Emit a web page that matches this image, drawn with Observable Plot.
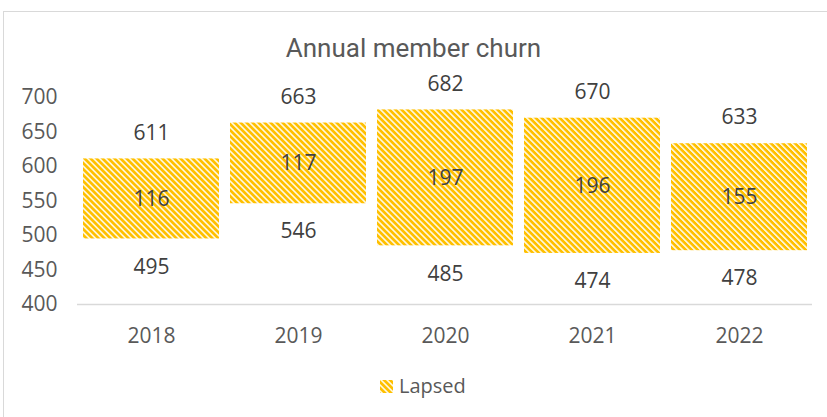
<!DOCTYPE html>
<html>
<head>
<meta charset="utf-8">
<script src="https://cdn.jsdelivr.net/npm/d3@7"></script>
<script src="https://cdn.jsdelivr.net/npm/@observablehq/plot@0.6"></script>
<style>
  html, body { margin: 0; padding: 0; background: #fff; }
  #wrap { position: relative; width: 827px; height: 417px; overflow: hidden; }
  #frame { position: absolute; left: 3px; top: 11px; width: 840px; height: 430px; border: 1.5px solid #d9d9d9; box-sizing: border-box; }
  #title { position: absolute; left: 0; width: 827px; top: 31px; text-align: center; font-family: Roboto, sans-serif; font-size: 26px; color: #595959; line-height: 34px; }
  #chart { position: absolute; left: 0; top: 0; }
  #legend { position: absolute; left: 380px; top: 372px; font-family: "Open Sans", sans-serif; font-size: 20px; color: #595959; display: flex; align-items: center; line-height: 28px; }
  #legend svg { margin-right: 6px; }
</style>
</head>
<body>
<div id="wrap">
  <div id="frame"></div>
  <div id="chart"></div>
  <div id="title">Annual member churn</div>
  <div id="legend"><svg width="13" height="13"><defs><pattern id="hatchL" patternUnits="userSpaceOnUse" width="10" height="4.24" patternTransform="rotate(45)"><rect width="10" height="4.24" fill="#fff"/><rect width="10" height="2.8" fill="#FFC000"/></pattern></defs><rect width="13" height="13" fill="url(#hatchL)"/></svg>Lapsed</div>
</div>
<script>
const years = ["2018", "2019", "2020", "2021", "2022"];
const lowValues = [495, 546, 485, 474, 478];
const highValues = [611, 663, 682, 670, 633];
const yTicks = [400, 450, 500, 550, 600, 650, 700];

const data = years.map((year, i) => ({
  year,
  low: lowValues[i],
  high: highValues[i],
  lapsed: highValues[i] - lowValues[i]
}));

const chart = Plot.plot({
  width: 827,
  height: 417,
  marginLeft: 77,
  marginRight: 15,
  marginTop: 97,
  marginBottom: 113,
  style: { fontSize: "21px", fontFamily: "'Open Sans', sans-serif", color: "#595959", background: "transparent" },
  x: { domain: years, paddingInner: 0.075, paddingOuter: 0.0375, label: null, tickSize: 0, tickPadding: 24 },
  y: { domain: [400, 700], ticks: yTicks, label: null, tickSize: 0, tickPadding: 20 },
  marks: [
    Plot.ruleY([400], { stroke: "#d9d9d9", strokeWidth: 1.5 }),
    Plot.barY(data, { x: "year", y1: "low", y2: "high", fill: "url(#hatch)", inset: 0 }),
    Plot.text(data, { x: "year", y: "high", text: d => String(d.high), dy: -26, fill: "#404040" }),
    Plot.text(data, { x: "year", y: "low", text: d => String(d.low), dy: 28, fill: "#404040" }),
    Plot.text(data, { x: "year", y: d => (d.low + d.high) / 2, text: d => String(d.lapsed), fill: "#404040" })
  ]
});

const ns = "http://www.w3.org/2000/svg";
const defs = document.createElementNS(ns, "defs");
defs.innerHTML = '<pattern id="hatch" patternUnits="userSpaceOnUse" width="10" height="4.24" patternTransform="rotate(45)"><rect width="10" height="4.24" fill="#fff"/><rect width="10" height="2.8" fill="#FFC000"/></pattern>';
chart.insertBefore(defs, chart.firstChild);
document.getElementById("chart").appendChild(chart);
</script>
</body>
</html>
